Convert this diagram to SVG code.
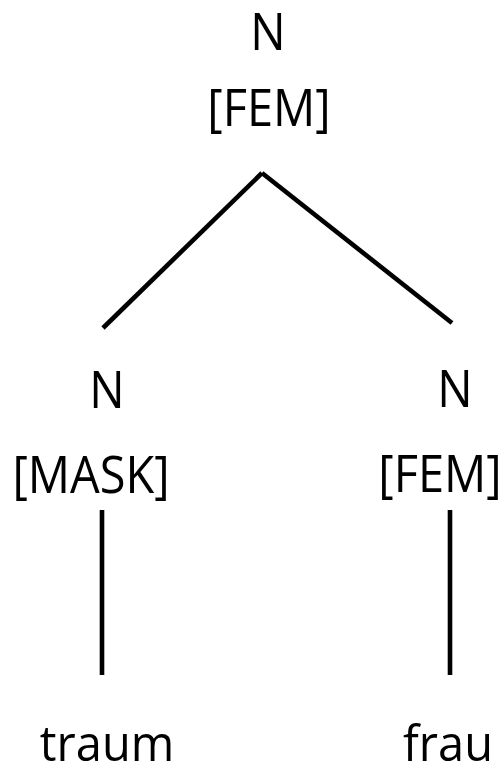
<svg xmlns="http://www.w3.org/2000/svg" width="501" height="768" viewBox="0 0 501 768">
<style>
text{font-family:"Open Sans","Liberation Sans",sans-serif;font-size:47px;fill:#000;text-anchor:middle}
.e{stroke:#000;stroke-width:4.6;fill:none;stroke-linecap:butt}
</style>
<rect width="501" height="768" fill="#fff"/>
<g id="connectors">
<line class="e" x1="262" y1="173" x2="103" y2="328"/>
<line class="e" x1="262" y1="173" x2="452" y2="323"/>
<line class="e" x1="102" y1="510" x2="102" y2="675"/>
<line class="e" x1="450" y1="510" x2="450" y2="675"/>
</g>
<g id="root"><text transform="translate(268,50) scale(1,1.1)">N</text><text transform="translate(269,126) scale(1,1.1)">[FEM]</text></g>
<g id="left"><text transform="translate(107,408) scale(1,1.1)">N</text><text transform="translate(91,493) scale(1,1.1)">[MASK]</text></g>
<g id="right"><text transform="translate(455,407) scale(1,1.1)">N</text><text transform="translate(440,492) scale(1,1.1)">[FEM]</text></g>
<g id="traum"><text transform="translate(107,761) scale(1,1.05)">traum</text></g>
<g id="frau"><text transform="translate(448,761) scale(1,1.05)">frau</text></g>
</svg>
